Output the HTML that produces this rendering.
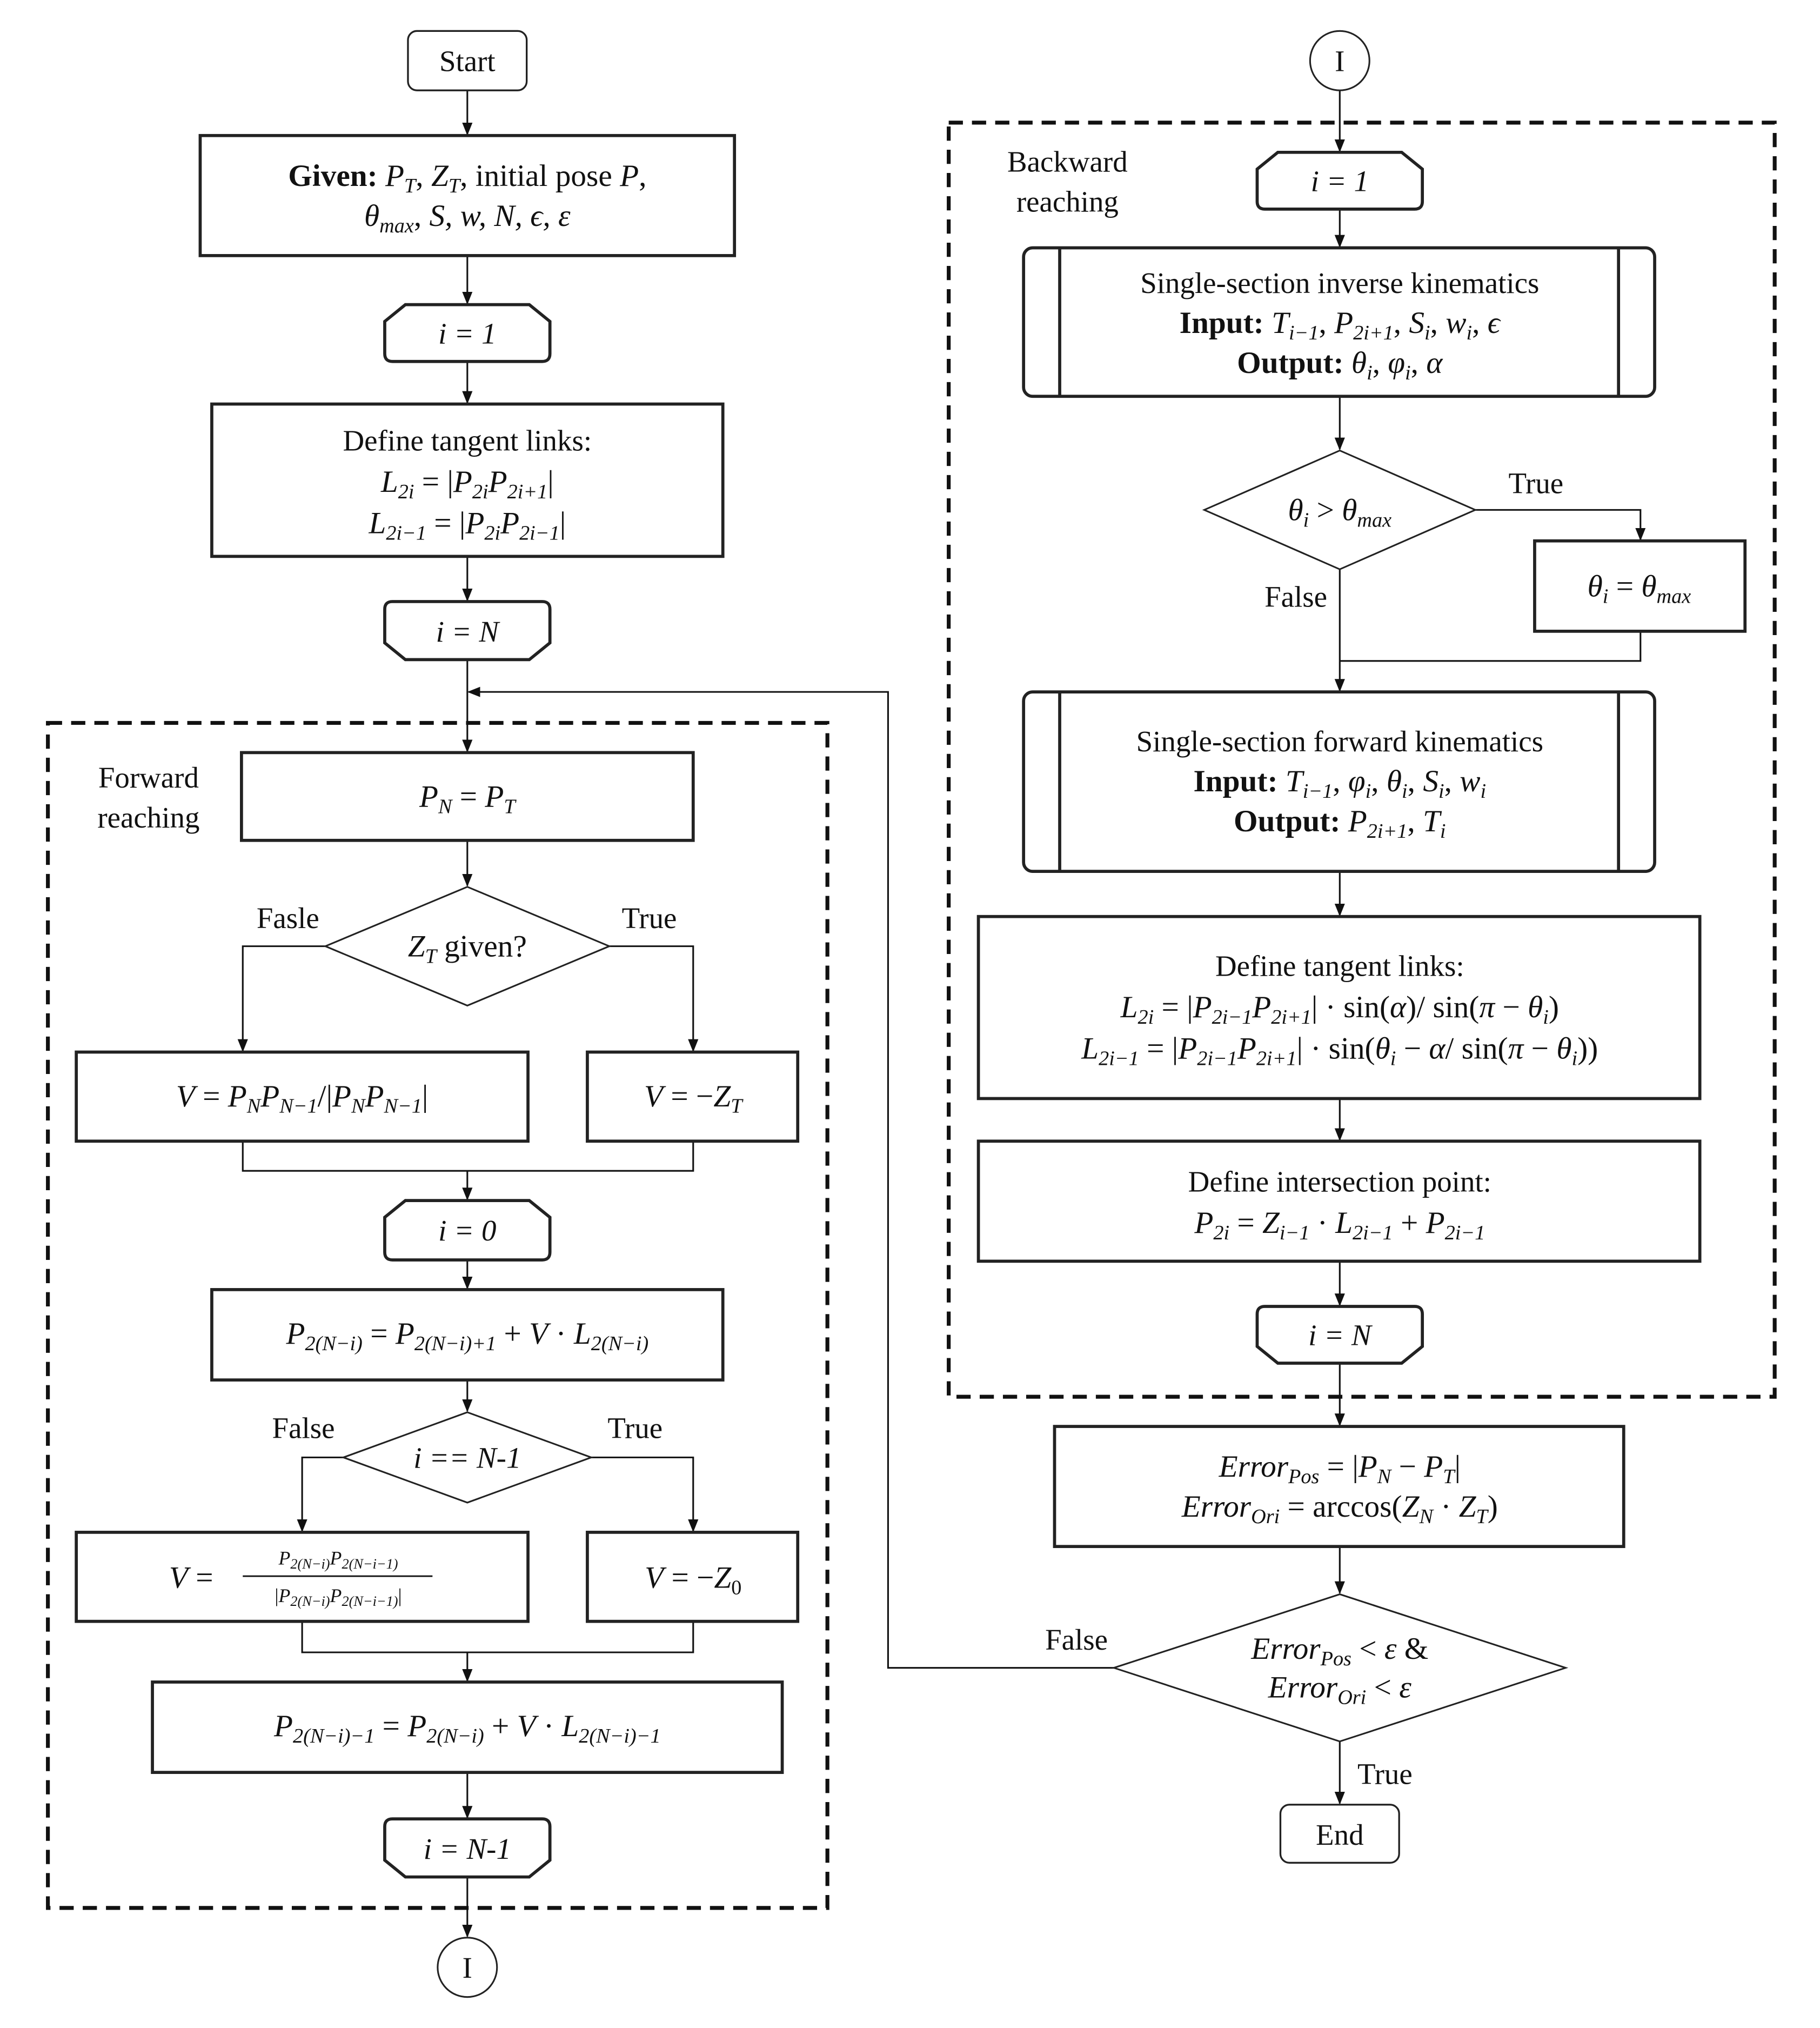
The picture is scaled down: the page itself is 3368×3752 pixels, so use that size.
<!DOCTYPE html>
<html><head><meta charset="utf-8"><style>
html,body{margin:0;padding:0;background:#fff;}
svg{display:block;}
text{font-family:"Liberation Serif",serif;fill:#111;}
.m{font-size:24px;}
.t{font-size:23px;}
.i{font-style:italic;}
.b{font-weight:bold;}
.box{fill:#fff;stroke:#222;stroke-width:2.4;}
.thin{fill:#fff;stroke:#222;stroke-width:1.3;}
.ln{fill:none;stroke:#111;stroke-width:1.3;}
.dash{fill:none;stroke:#111;stroke-width:3;stroke-dasharray:11 7;}
</style></head><body>
<svg width="3368" height="3752" viewBox="0 0 1410 1571" xmlns="http://www.w3.org/2000/svg">
<defs><marker id="a" markerWidth="10" markerHeight="10" refX="9" refY="5" orient="auto" markerUnits="userSpaceOnUse"><path d="M0,1 L10,5 L0,9 Z" fill="#111"/></marker></defs>
<rect width="1410" height="1571" fill="#fff"/>

<!-- dashed groups -->
<rect class="dash" x="37" y="560" width="604" height="918"/>
<rect class="dash" x="735" y="95" width="640" height="987"/>
<text class="t" x="115" y="610" text-anchor="middle">Forward</text>
<text class="t" x="115" y="641" text-anchor="middle">reaching</text>
<text class="t" x="827" y="133" text-anchor="middle">Backward</text>
<text class="t" x="827" y="164" text-anchor="middle">reaching</text>

<!-- LEFT connectors -->
<g class="ln">
<line x1="362" y1="70" x2="362" y2="104" marker-end="url(#a)"/>
<line x1="362" y1="198" x2="362" y2="235" marker-end="url(#a)"/>
<line x1="362" y1="280" x2="362" y2="312" marker-end="url(#a)"/>
<line x1="362" y1="431" x2="362" y2="465" marker-end="url(#a)"/>
<line x1="362" y1="511" x2="362" y2="582" marker-end="url(#a)"/>
<line x1="362" y1="651" x2="362" y2="686" marker-end="url(#a)"/>
<polyline points="252,733 188,733 188,814" marker-end="url(#a)"/>
<polyline points="472,733 537,733 537,814" marker-end="url(#a)"/>
<polyline points="188,884 188,907 537,907 537,884"/>
<line x1="362" y1="907" x2="362" y2="929" marker-end="url(#a)"/>
<line x1="362" y1="976" x2="362" y2="998" marker-end="url(#a)"/>
<line x1="362" y1="1069" x2="362" y2="1093" marker-end="url(#a)"/>
<polyline points="266,1129 234,1129 234,1186" marker-end="url(#a)"/>
<polyline points="458,1129 537,1129 537,1186" marker-end="url(#a)"/>
<polyline points="234,1256 234,1280 537,1280 537,1256"/>
<line x1="362" y1="1280" x2="362" y2="1302" marker-end="url(#a)"/>
<line x1="362" y1="1373" x2="362" y2="1408" marker-end="url(#a)"/>
<line x1="362" y1="1454" x2="362" y2="1500" marker-end="url(#a)"/>
<polyline points="863,1292 688,1292 688,536 363,536" marker-end="url(#a)"/>
</g>

<!-- LEFT nodes -->
<rect class="box" x="316" y="24" width="92" height="46" rx="7" style="stroke-width:1.4"/>
<text class="t" x="362" y="55" text-anchor="middle">Start</text>

<rect class="box" x="155" y="105" width="414" height="93"/>
<text class="m" x="362" y="144" text-anchor="middle"><tspan class="b">Given: </tspan><tspan class="i">P</tspan><tspan font-size="16" class="i" dy="5">T</tspan><tspan dy="-5">, </tspan><tspan class="i">Z</tspan><tspan font-size="16" class="i" dy="5">T</tspan><tspan dy="-5">, initial pose </tspan><tspan class="i">P</tspan><tspan>,</tspan></text>
<text class="m" x="362" y="175" text-anchor="middle"><tspan class="i">θ</tspan><tspan font-size="16" class="i" dy="5">max</tspan><tspan dy="-5">, </tspan><tspan class="i">S, w, N, ϵ, ε</tspan></text>

<path class="box" d="M314,236 L410,236 L426,249 L426,274 Q426,280 420,280 L304,280 Q298,280 298,274 L298,249 Z"/>
<text class="t i" x="362" y="266" text-anchor="middle">i = 1</text>

<rect class="box" x="164" y="313" width="396" height="118"/>
<text class="t" x="362" y="349" text-anchor="middle">Define tangent links:</text>
<text class="m" x="362" y="381" text-anchor="middle"><tspan class="i">L</tspan><tspan font-size="16" class="i" dy="5">2i</tspan><tspan dy="-5"> = |</tspan><tspan class="i">P</tspan><tspan font-size="16" class="i" dy="5">2i</tspan><tspan class="i" dy="-5">P</tspan><tspan font-size="16" class="i" dy="5">2i+1</tspan><tspan dy="-5">|</tspan></text>
<text class="m" x="362" y="413" text-anchor="middle"><tspan class="i">L</tspan><tspan font-size="16" class="i" dy="5">2i−1</tspan><tspan dy="-5"> = |</tspan><tspan class="i">P</tspan><tspan font-size="16" class="i" dy="5">2i</tspan><tspan class="i" dy="-5">P</tspan><tspan font-size="16" class="i" dy="5">2i−1</tspan><tspan dy="-5">|</tspan></text>

<path class="box" d="M304,466 L420,466 Q426,466 426,472 L426,498 L410,511 L314,511 L298,498 L298,472 Q298,466 304,466 Z"/>
<text class="t i" x="362" y="497" text-anchor="middle">i = N</text>

<rect class="box" x="187" y="583" width="350" height="68"/>
<text class="m" x="362" y="625" text-anchor="middle"><tspan class="i">P</tspan><tspan font-size="16" class="i" dy="5">N</tspan><tspan dy="-5"> = </tspan><tspan class="i">P</tspan><tspan font-size="16" class="i" dy="5">T</tspan></text>

<polygon class="thin" points="362,687 472,733 362,779 252,733"/>
<text class="m" x="362" y="741" text-anchor="middle"><tspan class="i">Z</tspan><tspan font-size="16" class="i" dy="5">T</tspan><tspan dy="-5"> given?</tspan></text>
<text class="t" x="223" y="719" text-anchor="middle">Fasle</text>
<text class="t" x="503" y="719" text-anchor="middle">True</text>

<rect class="box" x="59" y="815" width="350" height="69"/>
<text class="m" x="234" y="857" text-anchor="middle"><tspan class="i">V</tspan><tspan> = </tspan><tspan class="i">P</tspan><tspan font-size="16" class="i" dy="5">N</tspan><tspan class="i" dy="-5">P</tspan><tspan font-size="16" class="i" dy="5">N−1</tspan><tspan dy="-5">/|</tspan><tspan class="i">P</tspan><tspan font-size="16" class="i" dy="5">N</tspan><tspan class="i" dy="-5">P</tspan><tspan font-size="16" class="i" dy="5">N−1</tspan><tspan dy="-5">|</tspan></text>
<rect class="box" x="455" y="815" width="163" height="69"/>
<text class="m" x="537" y="857" text-anchor="middle"><tspan class="i">V</tspan><tspan> = −</tspan><tspan class="i">Z</tspan><tspan font-size="16" class="i" dy="5">T</tspan></text>

<path class="box" d="M314,930 L410,930 L426,943 L426,970 Q426,976 420,976 L304,976 Q298,976 298,970 L298,943 Z"/>
<text class="t i" x="362" y="961" text-anchor="middle">i = 0</text>

<rect class="box" x="164" y="999" width="396" height="70"/>
<text class="m" x="362" y="1041" text-anchor="middle"><tspan class="i">P</tspan><tspan font-size="16" class="i" dy="5">2(N−i)</tspan><tspan dy="-5"> = </tspan><tspan class="i">P</tspan><tspan font-size="16" class="i" dy="5">2(N−i)+1</tspan><tspan dy="-5"> + </tspan><tspan class="i">V</tspan><tspan> · </tspan><tspan class="i">L</tspan><tspan font-size="16" class="i" dy="5">2(N−i)</tspan></text>

<polygon class="thin" points="362,1094 458,1129 362,1164 266,1129"/>
<text class="t i" x="362" y="1137" text-anchor="middle">i == N-1</text>
<text class="t" x="235" y="1114" text-anchor="middle">False</text>
<text class="t" x="492" y="1114" text-anchor="middle">True</text>

<rect class="box" x="59" y="1187" width="350" height="69"/>
<text class="m" x="148" y="1230" text-anchor="middle"><tspan class="i">V</tspan><tspan> =</tspan></text>
<line x1="188" y1="1221" x2="335" y2="1221" stroke="#111" stroke-width="1.2"/>
<text x="262" y="1212" font-size="15" text-anchor="middle"><tspan class="i">P</tspan><tspan font-size="11" class="i" dy="3">2(N−i)</tspan><tspan class="i" dy="-3">P</tspan><tspan font-size="11" class="i" dy="3">2(N−i−1)</tspan></text>
<text x="262" y="1241" font-size="15" text-anchor="middle"><tspan>|</tspan><tspan class="i">P</tspan><tspan font-size="11" class="i" dy="3">2(N−i)</tspan><tspan class="i" dy="-3">P</tspan><tspan font-size="11" class="i" dy="3">2(N−i−1)</tspan><tspan dy="-3">|</tspan></text>
<rect class="box" x="455" y="1187" width="163" height="69"/>
<text class="m" x="537" y="1230" text-anchor="middle"><tspan class="i">V</tspan><tspan> = −</tspan><tspan class="i">Z</tspan><tspan font-size="16" dy="5">0</tspan></text>

<rect class="box" x="118" y="1303" width="488" height="70"/>
<text class="m" x="362" y="1345" text-anchor="middle"><tspan class="i">P</tspan><tspan font-size="16" class="i" dy="5">2(N−i)−1</tspan><tspan dy="-5"> = </tspan><tspan class="i">P</tspan><tspan font-size="16" class="i" dy="5">2(N−i)</tspan><tspan dy="-5"> + </tspan><tspan class="i">V</tspan><tspan> · </tspan><tspan class="i">L</tspan><tspan font-size="16" class="i" dy="5">2(N−i)−1</tspan></text>

<path class="box" d="M304,1409 L420,1409 Q426,1409 426,1415 L426,1441 L410,1454 L314,1454 L298,1441 L298,1415 Q298,1409 304,1409 Z"/>
<text class="t i" x="362" y="1440" text-anchor="middle">i = N-1</text>

<circle class="thin" cx="362" cy="1524" r="23"/>
<text class="t" x="362" y="1532" text-anchor="middle">I</text>

<!-- RIGHT connectors -->
<g class="ln">
<line x1="1038" y1="70" x2="1038" y2="117" marker-end="url(#a)"/>
<line x1="1038" y1="162" x2="1038" y2="191" marker-end="url(#a)"/>
<line x1="1038" y1="307" x2="1038" y2="348" marker-end="url(#a)"/>
<polyline points="1143,395 1271,395 1271,418" marker-end="url(#a)"/>
<line x1="1038" y1="441" x2="1038" y2="535" marker-end="url(#a)"/>
<polyline points="1271,489 1271,512 1038,512"/>
<line x1="1038" y1="675" x2="1038" y2="709" marker-end="url(#a)"/>
<line x1="1038" y1="851" x2="1038" y2="883" marker-end="url(#a)"/>
<line x1="1038" y1="977" x2="1038" y2="1011" marker-end="url(#a)"/>
<line x1="1038" y1="1056" x2="1038" y2="1104" marker-end="url(#a)"/>
<line x1="1038" y1="1198" x2="1038" y2="1234" marker-end="url(#a)"/>
<line x1="1038" y1="1349" x2="1038" y2="1397" marker-end="url(#a)"/>
</g>

<circle class="thin" cx="1038" cy="47" r="23"/>
<text class="t" x="1038" y="55" text-anchor="middle">I</text>

<path class="box" d="M990,118 L1086,118 L1102,131 L1102,156 Q1102,162 1096,162 L980,162 Q974,162 974,156 L974,131 Z"/>
<text class="t i" x="1038" y="148" text-anchor="middle">i = 1</text>

<rect class="box" x="793" y="192" width="489" height="115" rx="7"/>
<line x1="821" y1="192" x2="821" y2="307" stroke="#222" stroke-width="2.4"/>
<line x1="1254" y1="192" x2="1254" y2="307" stroke="#222" stroke-width="2.4"/>
<text class="t" x="1038" y="227" text-anchor="middle">Single-section inverse kinematics</text>
<text class="m" x="1038" y="258" text-anchor="middle"><tspan class="b">Input: </tspan><tspan class="i">T</tspan><tspan font-size="16" class="i" dy="5">i−1</tspan><tspan dy="-5">, </tspan><tspan class="i">P</tspan><tspan font-size="16" class="i" dy="5">2i+1</tspan><tspan dy="-5">, </tspan><tspan class="i">S</tspan><tspan font-size="16" class="i" dy="5">i</tspan><tspan dy="-5">, </tspan><tspan class="i">w</tspan><tspan font-size="16" class="i" dy="5">i</tspan><tspan dy="-5">, </tspan><tspan class="i">ϵ</tspan></text>
<text class="m" x="1038" y="289" text-anchor="middle"><tspan class="b">Output: </tspan><tspan class="i">θ</tspan><tspan font-size="16" class="i" dy="5">i</tspan><tspan dy="-5">, </tspan><tspan class="i">φ</tspan><tspan font-size="16" class="i" dy="5">i</tspan><tspan dy="-5">, </tspan><tspan class="i">α</tspan></text>

<polygon class="thin" points="1038,349 1143,395 1038,441 933,395"/>
<text class="m" x="1038" y="403" text-anchor="middle"><tspan class="i">θ</tspan><tspan font-size="16" class="i" dy="5">i</tspan><tspan dy="-5"> &gt; </tspan><tspan class="i">θ</tspan><tspan font-size="16" class="i" dy="5">max</tspan></text>
<text class="t" x="1190" y="382" text-anchor="middle">True</text>
<text class="t" x="1004" y="470" text-anchor="middle">False</text>

<rect class="box" x="1189" y="419" width="163" height="70"/>
<text class="m" x="1270" y="462" text-anchor="middle"><tspan class="i">θ</tspan><tspan font-size="16" class="i" dy="5">i</tspan><tspan dy="-5"> = </tspan><tspan class="i">θ</tspan><tspan font-size="16" class="i" dy="5">max</tspan></text>

<rect class="box" x="793" y="536" width="489" height="139" rx="7"/>
<line x1="821" y1="536" x2="821" y2="675" stroke="#222" stroke-width="2.4"/>
<line x1="1254" y1="536" x2="1254" y2="675" stroke="#222" stroke-width="2.4"/>
<text class="t" x="1038" y="582" text-anchor="middle">Single-section forward kinematics</text>
<text class="m" x="1038" y="613" text-anchor="middle"><tspan class="b">Input: </tspan><tspan class="i">T</tspan><tspan font-size="16" class="i" dy="5">i−1</tspan><tspan dy="-5">, </tspan><tspan class="i">φ</tspan><tspan font-size="16" class="i" dy="5">i</tspan><tspan dy="-5">, </tspan><tspan class="i">θ</tspan><tspan font-size="16" class="i" dy="5">i</tspan><tspan dy="-5">, </tspan><tspan class="i">S</tspan><tspan font-size="16" class="i" dy="5">i</tspan><tspan dy="-5">, </tspan><tspan class="i">w</tspan><tspan font-size="16" class="i" dy="5">i</tspan></text>
<text class="m" x="1038" y="644" text-anchor="middle"><tspan class="b">Output: </tspan><tspan class="i">P</tspan><tspan font-size="16" class="i" dy="5">2i+1</tspan><tspan dy="-5">, </tspan><tspan class="i">T</tspan><tspan font-size="16" class="i" dy="5">i</tspan></text>

<rect class="box" x="758" y="710" width="559" height="141"/>
<text class="t" x="1038" y="756" text-anchor="middle">Define tangent links:</text>
<text class="m" x="1038" y="788" text-anchor="middle"><tspan class="i">L</tspan><tspan font-size="16" class="i" dy="5">2i</tspan><tspan dy="-5"> = |</tspan><tspan class="i">P</tspan><tspan font-size="16" class="i" dy="5">2i−1</tspan><tspan class="i" dy="-5">P</tspan><tspan font-size="16" class="i" dy="5">2i+1</tspan><tspan dy="-5">| · sin(</tspan><tspan class="i">α</tspan><tspan>)/ sin(</tspan><tspan class="i">π</tspan><tspan> − </tspan><tspan class="i">θ</tspan><tspan font-size="16" class="i" dy="5">i</tspan><tspan dy="-5">)</tspan></text>
<text class="m" x="1038" y="820" text-anchor="middle"><tspan class="i">L</tspan><tspan font-size="16" class="i" dy="5">2i−1</tspan><tspan dy="-5"> = |</tspan><tspan class="i">P</tspan><tspan font-size="16" class="i" dy="5">2i−1</tspan><tspan class="i" dy="-5">P</tspan><tspan font-size="16" class="i" dy="5">2i+1</tspan><tspan dy="-5">| · sin(</tspan><tspan class="i">θ</tspan><tspan font-size="16" class="i" dy="5">i</tspan><tspan dy="-5"> − </tspan><tspan class="i">α</tspan><tspan>/ sin(</tspan><tspan class="i">π</tspan><tspan> − </tspan><tspan class="i">θ</tspan><tspan font-size="16" class="i" dy="5">i</tspan><tspan dy="-5">))</tspan></text>

<rect class="box" x="758" y="884" width="559" height="93"/>
<text class="t" x="1038" y="923" text-anchor="middle">Define intersection point:</text>
<text class="m" x="1038" y="955" text-anchor="middle"><tspan class="i">P</tspan><tspan font-size="16" class="i" dy="5">2i</tspan><tspan dy="-5"> = </tspan><tspan class="i">Z</tspan><tspan font-size="16" class="i" dy="5">i−1</tspan><tspan dy="-5"> · </tspan><tspan class="i">L</tspan><tspan font-size="16" class="i" dy="5">2i−1</tspan><tspan dy="-5"> + </tspan><tspan class="i">P</tspan><tspan font-size="16" class="i" dy="5">2i−1</tspan></text>

<path class="box" d="M980,1012 L1096,1012 Q1102,1012 1102,1018 L1102,1043 L1086,1056 L990,1056 L974,1043 L974,1018 Q974,1012 980,1012 Z"/>
<text class="t i" x="1038" y="1042" text-anchor="middle">i = N</text>

<rect class="box" x="817" y="1105" width="441" height="93"/>
<text class="m" x="1038" y="1144" text-anchor="middle"><tspan class="i">Error</tspan><tspan font-size="16" class="i" dy="5">Pos</tspan><tspan dy="-5"> = |</tspan><tspan class="i">P</tspan><tspan font-size="16" class="i" dy="5">N</tspan><tspan dy="-5"> − </tspan><tspan class="i">P</tspan><tspan font-size="16" class="i" dy="5">T</tspan><tspan dy="-5">|</tspan></text>
<text class="m" x="1038" y="1175" text-anchor="middle"><tspan class="i">Error</tspan><tspan font-size="16" class="i" dy="5">Ori</tspan><tspan dy="-5"> = arccos(</tspan><tspan class="i">Z</tspan><tspan font-size="16" class="i" dy="5">N</tspan><tspan dy="-5"> · </tspan><tspan class="i">Z</tspan><tspan font-size="16" class="i" dy="5">T</tspan><tspan dy="-5">)</tspan></text>

<polygon class="thin" points="1038,1235 1213,1292 1038,1349 863,1292"/>
<text class="m" x="1038" y="1285" text-anchor="middle"><tspan class="i">Error</tspan><tspan font-size="16" class="i" dy="5">Pos</tspan><tspan dy="-5"> &lt; </tspan><tspan class="i">ε</tspan><tspan> &amp;</tspan></text>
<text class="m" x="1038" y="1315" text-anchor="middle"><tspan class="i">Error</tspan><tspan font-size="16" class="i" dy="5">Ori</tspan><tspan dy="-5"> &lt; </tspan><tspan class="i">ε</tspan></text>
<text class="t" x="834" y="1278" text-anchor="middle">False</text>
<text class="t" x="1073" y="1382" text-anchor="middle">True</text>

<rect class="box" x="992" y="1398" width="92" height="45" rx="7" style="stroke-width:1.4"/>
<text class="t" x="1038" y="1429" text-anchor="middle">End</text>
</svg>
</body></html>
